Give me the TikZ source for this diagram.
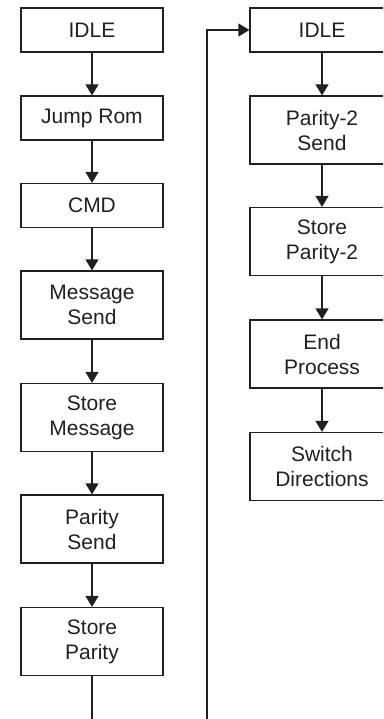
\documentclass[tikz,border=0pt]{standalone}
\usepackage{fontspec}
\setmainfont{Liberation Sans}
\usetikzlibrary{arrows.meta}
\definecolor{ink}{HTML}{231F20}
\tikzset{
  stbox/.style={draw=ink, line width=1.2pt, minimum width=142pt, align=center,
    inner sep=0pt, font=\fontsize{21}{25}\selectfont, text=ink},
  onel/.style={stbox, minimum height=44pt},
  twol/.style={stbox, minimum height=68pt},
  flow/.style={draw=ink, line width=1.2pt, -{Triangle[length=11pt,width=13pt]}},
  wire/.style={draw=ink, line width=1.2pt}
}
\begin{document}
\begin{tikzpicture}[x=1pt,y=-1pt]
\useasboundingbox (0,0) rectangle (383,719);
\clip (0,0) rectangle (383,719);
% left column
\node[onel] (i1) at (92,30) {IDLE};
\node[onel] (jr) at (92,118) {Jump Rom};
\node[onel] (cmd) at (92,205.5) {CMD};
\node[twol] (ms) at (92,305) {Message\\Send};
\node[twol] (sm) at (92,417.5) {Store\\Message};
\node[twol] (ps) at (92,529) {Parity\\Send};
\node[twol] (sp) at (92,641.5) {Store\\Parity};
% right column
\node[onel, minimum width=144pt] (i2) at (322,30) {IDLE};
\node[twol, minimum width=144pt] (p2s) at (322,130) {Parity-2\\Send};
\node[twol, minimum width=144pt] (sp2) at (322,241.5) {Store\\Parity-2};
\node[twol, minimum width=144pt] (ep) at (322,354) {End\\Process};
\node[twol, minimum width=144pt] (sd) at (322,466.5) {Switch\\Directions};
% connectors
\draw[flow] (i1) -- (jr);
\draw[flow] (jr) -- (cmd);
\draw[flow] (cmd) -- (ms);
\draw[flow] (ms) -- (sm);
\draw[flow] (sm) -- (ps);
\draw[flow] (ps) -- (sp);
\draw[flow] (i2) -- (p2s);
\draw[flow] (p2s) -- (sp2);
\draw[flow] (sp2) -- (ep);
\draw[flow] (ep) -- (sd);
\coordinate (b1) at (92,725);
\coordinate (b2) at (207,725);
\draw[wire] (sp.south) -- (b1);
\draw[flow] (b2) |- (i2.west);
\end{tikzpicture}
\end{document}
